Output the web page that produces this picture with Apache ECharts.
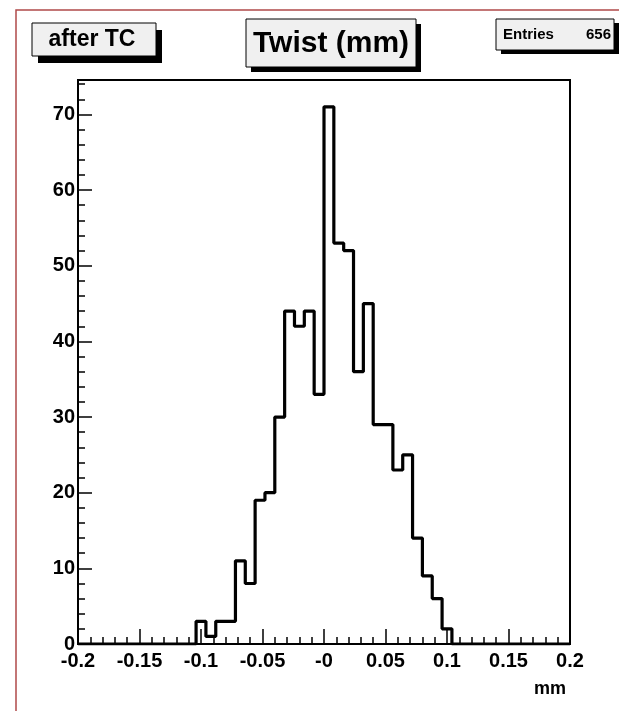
<!DOCTYPE html>
<html>
<head>
<meta charset="utf-8">
<script src="https://cdn.jsdelivr.net/npm/echarts@6/dist/echarts.min.js"></script>
<style>html,body{margin:0;padding:0;background:#fff}#c{width:619px;height:711px}</style>
</head>
<body>
<div id="c"></div>
<script>
// Histogram binning (50 bins from -0.2 to 0.2)
const binStart = -0.2;
const binWidth = 0.008;
const counts = [0,0,0,0,0,0,0,0,0,0,0,0,3,1,3,3,11,8,19,20,30,44,42,44,33,71,53,52,36,45,29,29,23,25,14,9,6,2,0,0,0,0,0,0,0,0,0,0,0,0];
const xTickLabels = ['-0.2','-0.15','-0.1','-0.05','-0','0.05','0.1','0.15','0.2'];
const yTickLabels = ['0','10','20','30','40','50','60','70'];
const entries = 656;
const titleText = 'Twist (mm)';
const tagText = 'after TC';
const xName = 'mm';

const data = counts.map((v, i) => [binStart + i * binWidth, v]);
data.push([binStart + counts.length * binWidth, counts[counts.length - 1]]);

const FONT = '"Liberation Sans", Arial, Helvetica, sans-serif';
const chart = echarts.init(document.getElementById('c'));

function xLabel(v) {
  const idx = Math.round((v + 0.2) / 0.05);
  if (Math.abs(v - (-0.2 + idx * 0.05)) < 1e-9 && idx >= 0 && idx < xTickLabels.length) return xTickLabels[idx];
  return '';
}
function yLabel(v) {
  const idx = Math.round(v / 10);
  if (Math.abs(v - idx * 10) < 1e-9 && idx < yTickLabels.length) return yTickLabels[idx];
  return '';
}

function box(x, y, w, h, sx, sy) {
  return [
    {type:'rect', shape:{x:x+sx, y:y+sy, width:w, height:h}, style:{fill:'#000'}, z:10},
    {type:'rect', shape:{x:x, y:y, width:w, height:h}, style:{fill:'#f0f0f0', stroke:'#000', lineWidth:1}, z:11}
  ];
}

const graphics = [].concat(
  [{type:'rect', shape:{x:16, y:10, width:700, height:800}, style:{fill:'none', stroke:'#b04a4a', lineWidth:1.5}, z:1}],
  box(32, 23, 124, 33, 6, 7),
  [{type:'text', x:92, y:40, style:{text:tagText, font:'bold 23px ' + FONT, fill:'#000', align:'center', verticalAlign:'middle'}, z:12}],
  box(246, 19, 170, 48, 5, 5),
  [{type:'text', x:331, y:44, style:{text:titleText, font:'bold 30px ' + FONT, fill:'#000', align:'center', verticalAlign:'middle'}, z:12}],
  box(496, 19, 118, 31, 5, 4),
  [{type:'text', x:503, y:35, style:{text:'Entries', font:'bold 15px ' + FONT, fill:'#000', align:'left', verticalAlign:'middle'}, z:12},
   {type:'text', x:611, y:35, style:{text:String(entries), font:'bold 15px ' + FONT, fill:'#000', align:'right', verticalAlign:'middle'}, z:12},
   {type:'text', x:566, y:689, style:{text:xName, font:'bold 18px ' + FONT, fill:'#000', align:'right', verticalAlign:'middle'}, z:12}]
);

const option = {
  backgroundColor: '#fff',
  animation: false,
  grid: {left:78, top:80, right:49, bottom:67, show:true, borderColor:'#000', borderWidth:2, backgroundColor:'transparent'},
  xAxis: [
    {type:'value', min:-0.2, max:0.2, interval:0.05, position:'bottom',
     axisLine:{show:true, onZero:false, lineStyle:{color:'#000', width:2}},
     axisTick:{show:true, inside:true, length:15, lineStyle:{color:'#000', width:1.5}},
     axisLabel:{show:true, margin:7, formatter:xLabel, color:'#000', fontSize:20, fontWeight:'bold', fontFamily:FONT},
     splitLine:{show:false}},
    {type:'value', min:-0.2, max:0.2, interval:0.01, position:'bottom',
     axisLine:{show:false, onZero:false},
     axisTick:{show:true, inside:true, length:7, lineStyle:{color:'#000', width:1.5}},
     axisLabel:{show:false}, splitLine:{show:false}}
  ],
  yAxis: [
    {type:'value', min:0, max:74.55, interval:10, position:'left',
     axisLine:{show:true, onZero:false, lineStyle:{color:'#000', width:2}},
     axisTick:{show:true, inside:true, length:14, lineStyle:{color:'#000', width:1.5}},
     axisLabel:{show:true, margin:3, formatter:yLabel, color:'#000', fontSize:20, fontWeight:'bold', fontFamily:FONT},
     splitLine:{show:false}},
    {type:'value', min:0, max:74.55, interval:2, position:'left',
     axisLine:{show:false, onZero:false},
     axisTick:{show:true, inside:true, length:7, lineStyle:{color:'#000', width:1.5}},
     axisLabel:{show:false}, splitLine:{show:false}}
  ],
  series: [{
    type:'line', xAxisIndex:0, yAxisIndex:0, step:'end', symbol:'none',
    data:data, lineStyle:{color:'#000', width:3.2}, z:5
  }],
  graphic: graphics
};
chart.setOption(option);
</script>
</body>
</html>
